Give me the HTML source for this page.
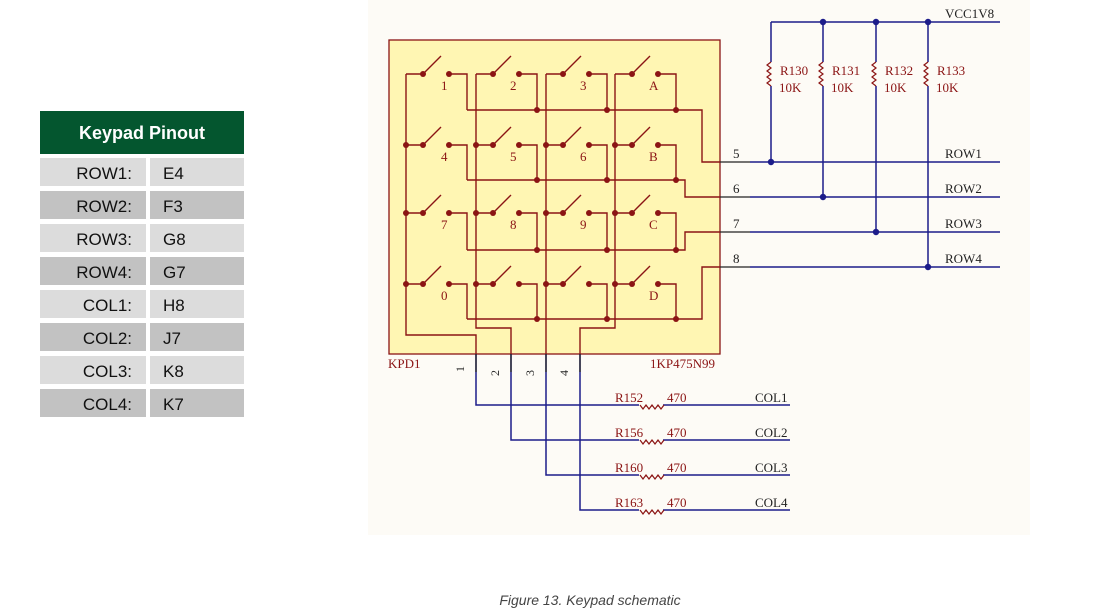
<!DOCTYPE html>
<html><head><meta charset="utf-8"><style>
body{margin:0;width:1095px;height:611px;background:#fff;overflow:hidden;font-family:"Liberation Sans",sans-serif}
svg{position:absolute;left:0;top:0}
</style></head><body>
<svg width="1095" height="611" viewBox="0 0 1095 611">
<rect x="368" y="0" width="662" height="535" fill="#fdfbf6"/>
<!-- table -->
<rect x="40" y="111" width="204" height="43" fill="#04562f"/>
<text x="142" y="139" font-family="Liberation Sans" font-weight="bold" font-size="18" fill="#fff" text-anchor="middle">Keypad Pinout</text>
<g font-family="Liberation Sans" font-size="17" fill="#111">
<rect x="40" y="158" width="106" height="28" fill="#dcdcdc"/><rect x="150" y="158" width="94" height="28" fill="#dcdcdc"/>
<rect x="40" y="191" width="106" height="28" fill="#c2c2c2"/><rect x="150" y="191" width="94" height="28" fill="#c2c2c2"/>
<rect x="40" y="224" width="106" height="28" fill="#dcdcdc"/><rect x="150" y="224" width="94" height="28" fill="#dcdcdc"/>
<rect x="40" y="257" width="106" height="28" fill="#c2c2c2"/><rect x="150" y="257" width="94" height="28" fill="#c2c2c2"/>
<rect x="40" y="290" width="106" height="28" fill="#dcdcdc"/><rect x="150" y="290" width="94" height="28" fill="#dcdcdc"/>
<rect x="40" y="323" width="106" height="28" fill="#c2c2c2"/><rect x="150" y="323" width="94" height="28" fill="#c2c2c2"/>
<rect x="40" y="356" width="106" height="28" fill="#dcdcdc"/><rect x="150" y="356" width="94" height="28" fill="#dcdcdc"/>
<rect x="40" y="389" width="106" height="28" fill="#c2c2c2"/><rect x="150" y="389" width="94" height="28" fill="#c2c2c2"/>
<g text-anchor="end"><text x="132" y="179">ROW1:</text><text x="132" y="212">ROW2:</text><text x="132" y="245">ROW3:</text><text x="132" y="278">ROW4:</text><text x="132" y="311">COL1:</text><text x="132" y="344">COL2:</text><text x="132" y="377">COL3:</text><text x="132" y="410">COL4:</text></g>
<text x="163" y="179">E4</text><text x="163" y="212">F3</text><text x="163" y="245">G8</text><text x="163" y="278">G7</text><text x="163" y="311">H8</text><text x="163" y="344">J7</text><text x="163" y="377">K8</text><text x="163" y="410">K7</text>
</g>
<!-- keypad box -->
<rect x="389" y="40" width="331" height="314" fill="#fff6b3" stroke="#8b1414" stroke-width="1.3"/>
<g stroke="#1c1c8a" stroke-width="1.5" fill="none">
<path d="M771 22H1000M771 22V162M823 22V197M876 22V232M928 22V267"/>
<path d="M750 162H1000M750 197H1000M750 232H1000M750 267H1000"/>
<path d="M476 354V405H790M511 354V440H790M546 354V475H790M580 354V510H790"/>
</g>
<g stroke="#222" stroke-width="1.3"><path d="M720 162H750M720 197H750M720 232H750M720 267H750"/>
<path d="M476 354V372M511 354V372M546 354V372M580 354V372"/></g>
<!-- resistor zigzags -->
<rect x="765" y="62" width="12" height="24" fill="#fdfbf6"/><rect x="817" y="62" width="12" height="24" fill="#fdfbf6"/><rect x="870" y="62" width="12" height="24" fill="#fdfbf6"/><rect x="922" y="62" width="12" height="24" fill="#fdfbf6"/>
<rect x="639" y="403" width="24" height="4" fill="#fdfbf6"/><rect x="639" y="438" width="24" height="4" fill="#fdfbf6"/><rect x="639" y="473" width="24" height="4" fill="#fdfbf6"/><rect x="639" y="508" width="24" height="4" fill="#fdfbf6"/>
<g stroke="#8b1414" stroke-width="1.2" fill="none">
<path d="M771 62l-4 3 4 3-4 3 4 3-4 3 4 3-4 3 4 3"/>
<path d="M823 62l-4 3 4 3-4 3 4 3-4 3 4 3-4 3 4 3"/>
<path d="M876 62l-4 3 4 3-4 3 4 3-4 3 4 3-4 3 4 3"/>
<path d="M928 62l-4 3 4 3-4 3 4 3-4 3 4 3-4 3 4 3"/>
<path d="M640 405l3 4 3-4 3 4 3-4 3 4 3-4 3 4 3-4"/>
<path d="M640 440l3 4 3-4 3 4 3-4 3 4 3-4 3 4 3-4"/>
<path d="M640 475l3 4 3-4 3 4 3-4 3 4 3-4 3 4 3-4"/>
<path d="M640 510l3 4 3-4 3 4 3-4 3 4 3-4 3 4 3-4"/>
</g>
<g fill="#1c1c8a">
<circle cx="823" cy="22" r="3.2"/><circle cx="876" cy="22" r="3.2"/><circle cx="928" cy="22" r="3.2"/>
<circle cx="771" cy="162" r="3.2"/><circle cx="823" cy="197" r="3.2"/><circle cx="876" cy="232" r="3.2"/><circle cx="928" cy="267" r="3.2"/>
</g>
<!-- keypad wiring -->
<g stroke="#8b1414" stroke-width="1.4" fill="none">
<path d="M406 74V335H476V354M476 74V328H511V354M546 74V354M615 74V328H580V354"/>
<path d="M406 74H423M476 74H493M546 74H563M615 74H632"/>
<path d="M406 145H423M476 145H493M546 145H563M615 145H632"/>
<path d="M406 213H423M476 213H493M546 213H563M615 213H632"/>
<path d="M406 284H423M476 284H493M546 284H563M615 284H632"/>
<path d="M423 74l18-18M493 74l18-18M563 74l18-18M632 74l18-18"/>
<path d="M423 145l18-18M493 145l18-18M563 145l18-18M632 145l18-18"/>
<path d="M423 213l18-18M493 213l18-18M563 213l18-18M632 213l18-18"/>
<path d="M423 284l18-18M493 284l18-18M563 284l18-18M632 284l18-18"/>
<path d="M449 74H467V110M519 74H537V110M589 74H607V110M658 74H676V110"/>
<path d="M449 145H467V180M519 145H537V180M589 145H607V180M658 145H676V180"/>
<path d="M449 213H467V250M519 213H537V250M589 213H607V250M658 213H676V250"/>
<path d="M449 284H467V319M519 284H537V319M589 284H607V319M658 284H676V319"/>
<path d="M467 110H702V162H720M467 180H685V197H720M467 250H685V232H720M467 319H702V267H720"/>
</g>
<g fill="#8b1414">
<circle cx="423" cy="74" r="3"/><circle cx="449" cy="74" r="3"/><circle cx="493" cy="74" r="3"/><circle cx="519" cy="74" r="3"/><circle cx="563" cy="74" r="3"/><circle cx="589" cy="74" r="3"/><circle cx="632" cy="74" r="3"/><circle cx="658" cy="74" r="3"/>
<circle cx="423" cy="145" r="3"/><circle cx="449" cy="145" r="3"/><circle cx="493" cy="145" r="3"/><circle cx="519" cy="145" r="3"/><circle cx="563" cy="145" r="3"/><circle cx="589" cy="145" r="3"/><circle cx="632" cy="145" r="3"/><circle cx="658" cy="145" r="3"/>
<circle cx="423" cy="213" r="3"/><circle cx="449" cy="213" r="3"/><circle cx="493" cy="213" r="3"/><circle cx="519" cy="213" r="3"/><circle cx="563" cy="213" r="3"/><circle cx="589" cy="213" r="3"/><circle cx="632" cy="213" r="3"/><circle cx="658" cy="213" r="3"/>
<circle cx="423" cy="284" r="3"/><circle cx="449" cy="284" r="3"/><circle cx="493" cy="284" r="3"/><circle cx="519" cy="284" r="3"/><circle cx="563" cy="284" r="3"/><circle cx="589" cy="284" r="3"/><circle cx="632" cy="284" r="3"/><circle cx="658" cy="284" r="3"/>
<circle cx="406" cy="145" r="3"/><circle cx="406" cy="213" r="3"/><circle cx="406" cy="284" r="3"/>
<circle cx="476" cy="145" r="3"/><circle cx="476" cy="213" r="3"/><circle cx="476" cy="284" r="3"/>
<circle cx="546" cy="145" r="3"/><circle cx="546" cy="213" r="3"/><circle cx="546" cy="284" r="3"/>
<circle cx="615" cy="145" r="3"/><circle cx="615" cy="213" r="3"/><circle cx="615" cy="284" r="3"/>
<circle cx="537" cy="110" r="3"/><circle cx="607" cy="110" r="3"/><circle cx="676" cy="110" r="3"/>
<circle cx="537" cy="180" r="3"/><circle cx="607" cy="180" r="3"/><circle cx="676" cy="180" r="3"/>
<circle cx="537" cy="250" r="3"/><circle cx="607" cy="250" r="3"/><circle cx="676" cy="250" r="3"/>
<circle cx="537" cy="319" r="3"/><circle cx="607" cy="319" r="3"/><circle cx="676" cy="319" r="3"/>
</g>
<g font-family="Liberation Serif" font-size="13" fill="#8b1414">
<text x="441" y="90">1</text><text x="510" y="90">2</text><text x="580" y="90">3</text><text x="649" y="90">A</text>
<text x="441" y="161">4</text><text x="510" y="161">5</text><text x="580" y="161">6</text><text x="649" y="161">B</text>
<text x="441" y="229">7</text><text x="510" y="229">8</text><text x="580" y="229">9</text><text x="649" y="229">C</text>
<text x="441" y="300">0</text><text x="649" y="300">D</text>
<text x="388" y="368">KPD1</text><text x="650" y="368">1KP475N99</text>
<text x="780" y="75">R130</text><text x="832" y="75">R131</text><text x="885" y="75">R132</text><text x="937" y="75">R133</text>
<text x="779" y="92">10K</text><text x="831" y="92">10K</text><text x="884" y="92">10K</text><text x="936" y="92">10K</text>
<text x="615" y="402">R152</text><text x="667" y="402">470</text>
<text x="615" y="437">R156</text><text x="667" y="437">470</text>
<text x="615" y="472">R160</text><text x="667" y="472">470</text>
<text x="615" y="507">R163</text><text x="667" y="507">470</text>
</g>
<g font-family="Liberation Serif" font-size="13" fill="#222">
<text x="945" y="18">VCC1V8</text>
<text x="945" y="158">ROW1</text><text x="945" y="193">ROW2</text><text x="945" y="228">ROW3</text><text x="945" y="263">ROW4</text>
<text x="733" y="158">5</text><text x="733" y="193">6</text><text x="733" y="228">7</text><text x="733" y="263">8</text>
<text x="755" y="402">COL1</text><text x="755" y="437">COL2</text><text x="755" y="472">COL3</text><text x="755" y="507">COL4</text>
<text transform="translate(464,372) rotate(-90)" font-size="12">1</text>
<text transform="translate(499,376) rotate(-90)" font-size="12">2</text>
<text transform="translate(534,376) rotate(-90)" font-size="12">3</text>
<text transform="translate(568,376) rotate(-90)" font-size="12">4</text>
</g>
<text x="590" y="605" font-family="Liberation Sans" font-style="italic" font-size="14" fill="#444" text-anchor="middle">Figure 13. Keypad schematic</text>
</svg>
</body></html>
